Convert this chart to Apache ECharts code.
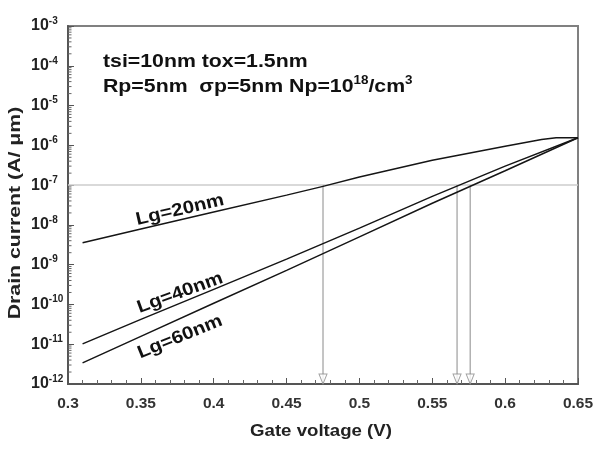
<!DOCTYPE html>
<html>
<head>
<meta charset="utf-8">
<script src="https://cdn.jsdelivr.net/npm/echarts@6/dist/echarts.min.js"></script>
<style>
  html, body { margin: 0; padding: 0; background: #fff; }
  #chart { width: 597px; height: 457px; }
</style>
</head>
<body>
<div id="chart"></div>
<script>
// gate voltage points (V) and drain current (A/um)
const vg20 = [0.31, 0.35, 0.40, 0.45, 0.475, 0.50, 0.55, 0.60, 0.625, 0.635, 0.65]
const id20 = [3.55e-9, 7.9e-9, 2.1e-8, 5.6e-8, 9.3e-8, 1.6e-7, 4.2e-7, 9.5e-7, 1.4e-6, 1.55e-6, 1.55e-6]

const vg40 = [0.31, 0.35, 0.40, 0.45, 0.50, 0.55, 0.60, 0.65]
const id40 = [1.02e-11, 4.2e-11, 2.4e-10, 1.38e-9, 8.3e-9, 5.2e-8, 3.0e-7, 1.55e-6]

const vg60 = [0.31, 0.35, 0.40, 0.45, 0.50, 0.55, 0.60, 0.65]
const id60 = [3.4e-12, 1.58e-11, 1.07e-10, 7.2e-10, 5.0e-9, 3.5e-8, 2.3e-7, 1.55e-6]

// threshold current level and the voltages where each curve reaches it
const iRef = 1e-7
const vtArrows = [0.475, 0.567, 0.576]

const xMin = 0.3, xMax = 0.65
const yMin = 1e-12, yMax = 1e-3
const yDecades = [-12, -11, -10, -9, -8, -7, -6, -5, -4, -3]
const minorSteps = [2, 3, 4, 5, 6, 7, 8, 9]

const font = "'Liberation Sans', Arial, sans-serif"

const pairs = (xs, ys) => xs.map((x, i) => [x, ys[i]])

const minorTicks = []
yDecades.slice(0, -1).forEach(d => minorSteps.forEach(m => minorTicks.push([xMin, m * Math.pow(10, d)])))

const myChart = echarts.init(document.getElementById('chart'))

const curve = (name, data) => ({
    name: name,
    type: 'line',
    data: data,
    showSymbol: false,
    lineStyle: { color: '#151515', width: 1.5 },
    z: 5,
})

const arrowLines = vtArrows.map(v => ({
    type: 'line',
    data: [[v, iRef], [v, yMin]],
    showSymbol: false,
    lineStyle: { color: '#8a8a8a', width: 1 },
    z: 3,
}))

const option = {
    animation: false,
    grid: {
        left: 68,
        right: 19,
        top: 26,
        bottom: 73,
        show: true,
        borderColor: '#808080',
        borderWidth: 2,
    },
    xAxis: {
        type: 'value',
        min: xMin,
        max: xMax,
        interval: 0.05,
        axisLine: { lineStyle: { color: '#555', width: 2 } },
        axisTick: { inside: true, length: 6, lineStyle: { color: '#555', width: 1 } },
        minorTick: { show: true, splitNumber: 5, length: 4, lineStyle: { color: '#666', width: 1 } },
        splitLine: { show: false },
        axisLabel: {
            margin: 12,
            fontFamily: font,
            fontSize: 15.5,
            fontWeight: 'bold',
            color: '#333',
        },
    },
    yAxis: {
        type: 'log',
        logBase: 10,
        min: yMin,
        max: yMax,
        splitNumber: 9,
        axisLine: { lineStyle: { color: '#555', width: 2 } },
        axisTick: { inside: true, length: 6, lineStyle: { color: '#555', width: 1 } },
        splitLine: { show: false },
        axisLabel: {
            align: 'left',
            margin: 37,
            formatter: v => '{b|10}{s|' + Math.round(Math.log10(v)) + '}',
            rich: {
                b: { fontFamily: font, fontSize: 16, fontWeight: 'bold', color: '#222' },
                s: { fontFamily: font, fontSize: 10, fontWeight: 'bold', color: '#222', padding: [0, 0, 10, 0] },
            },
        },
    },
    graphic: [
        {
            type: 'text', x: 103, y: 62, scaleX: 1.12,
            style: { x: 0, y: 0, text: 'tsi=10nm tox=1.5nm', font: 'bold 19px ' + font, fill: '#111', verticalAlign: 'middle' },
        },
        {
            type: 'text', x: 103, y: 87, scaleX: 1.12,
            style: {
                x: 0, y: 0,
                text: '{a|Rp=5nm  σp=5nm Np=10}{s|18}{a|/cm}{s|3}',
                verticalAlign: 'middle',
                rich: {
                    a: { font: 'bold 19px ' + font, fill: '#111' },
                    s: { font: 'bold 12px ' + font, fill: '#111', padding: [0, 0, 12, 0] },
                },
            },
        },
        {
            type: 'text', x: 180, y: 210, rotation: 13 * Math.PI / 180, scaleX: 1.13,
            style: { x: 0, y: 0, text: 'Lg=20nm', font: 'bold 18px ' + font, fill: '#111', align: 'center', verticalAlign: 'middle' },
        },
        {
            type: 'text', x: 180, y: 293, rotation: 20 * Math.PI / 180, scaleX: 1.13,
            style: { x: 0, y: 0, text: 'Lg=40nm', font: 'bold 18px ' + font, fill: '#111', align: 'center', verticalAlign: 'middle' },
        },
        {
            type: 'text', x: 180, y: 337, rotation: 22 * Math.PI / 180, scaleX: 1.13,
            style: { x: 0, y: 0, text: 'Lg=60nm', font: 'bold 18px ' + font, fill: '#111', align: 'center', verticalAlign: 'middle' },
        },
        {
            type: 'text', x: 321, y: 431, scaleX: 1.13,
            style: { x: 0, y: 0, text: 'Gate voltage (V)', font: 'bold 16.5px ' + font, fill: '#222', align: 'center', verticalAlign: 'middle' },
        },
        {
            type: 'text', x: 15, y: 213, rotation: Math.PI / 2, scaleX: 1.25,
            style: { x: 0, y: 0, text: 'Drain current (A/ μm)', font: 'bold 17px ' + font, fill: '#222', align: 'center', verticalAlign: 'middle' },
        },
    ],
    series: [
        {
            type: 'line',
            data: [[xMin, iRef], [xMax, iRef]],
            showSymbol: false,
            lineStyle: { color: '#cccccc', width: 1.5 },
            z: 2,
        },
        ...arrowLines,
        {
            type: 'scatter',
            data: vtArrows.map(v => [v, yMin]),
            symbol: 'triangle',
            symbolRotate: 180,
            symbolSize: [8, 10],
            symbolOffset: [0, -5],
            itemStyle: { color: '#fff', borderColor: '#8a8a8a', borderWidth: 1 },
            z: 4,
        },
        {
            type: 'custom',
            data: minorTicks,
            renderItem: function (params, api) {
                const p = api.coord([api.value(0), api.value(1)])
                return {
                    type: 'line',
                    shape: { x1: p[0], y1: p[1], x2: p[0] + 3.5, y2: p[1] },
                    style: { stroke: '#666', lineWidth: 1 },
                }
            },
            z: 6,
        },
        curve('Lg=20nm', pairs(vg20, id20)),
        curve('Lg=40nm', pairs(vg40, id40)),
        curve('Lg=60nm', pairs(vg60, id60)),
    ],
}

myChart.setOption(option)
</script>
</body>
</html>
